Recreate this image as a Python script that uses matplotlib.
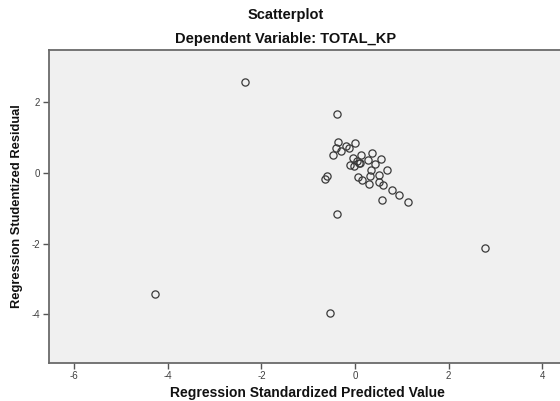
import matplotlib
matplotlib.use("Agg")
import matplotlib.pyplot as plt

plt.rcParams['font.family'] = ['Liberation Sans', 'DejaVu Sans']

# Regression Standardized Predicted Value
pred = [-2.35, -0.38, -4.27, -0.53, 2.78, -0.38,
        -0.36, -0.41, -0.31, -0.46, -0.19, -0.13, -0.01, -0.04, 0.13, 0.37,
        0.28, 0.55, 0.43, 0.05, 0.09, 0.11, -0.11, -0.03, 0.35, 0.69,
        0.52, 0.32, 0.06, 0.15, 0.29, 0.51, 0.60, 0.80, 0.95, 1.14,
        0.57, -0.59, -0.64]
# Regression Studentized Residual
resid = [2.58, 1.67, -3.43, -3.97, -2.12, -1.16,
         0.88, 0.70, 0.61, 0.50, 0.75, 0.70, 0.84, 0.42, 0.50, 0.56,
         0.37, 0.39, 0.25, 0.34, 0.29, 0.28, 0.22, 0.18, 0.09, 0.07,
         -0.05, -0.10, -0.13, -0.20, -0.32, -0.25, -0.35, -0.49, -0.63, -0.81,
         -0.77, -0.08, -0.16]

xticks = [-6, -4, -2, 0, 2, 4]
yticks = [2, 0, -2, -4]

W, H = 560, 401
fig = plt.figure(figsize=(W / 100, H / 100), dpi=100)
fig.patch.set_facecolor('white')

left, right, top, bottom = 48.5, 565.6, 50, 363
ax = fig.add_axes([left / W, 1 - bottom / H, (right - left) / W, (bottom - top) / H])
ax.set_facecolor('#f0f0f0')

ax.plot(pred, resid, linestyle='none', marker='o', markersize=5.2,
        markerfacecolor='none', markeredgecolor='#3a3a3a', markeredgewidth=0.9)

ax.set_xlim(-6.55, 4.50)
ax.set_ylim(-5.37, 3.47)
ax.set_xticks(xticks)
ax.set_yticks(yticks)
ax.set_xticklabels([str(t) for t in xticks])
ax.set_yticklabels([str(t) for t in yticks])
ax.tick_params(direction='out', length=4, width=1, color='#555555',
               labelsize=7, labelcolor='#404040', pad=2)

for s in ['left', 'bottom', 'top']:
    ax.spines[s].set_color('#6a6a6a')
    ax.spines[s].set_linewidth(1.3)
ax.spines['right'].set_visible(False)

ax.set_xlabel('Regression Standardized Predicted Value', fontsize=10,
              fontweight='bold', color='#111111')
ax.xaxis.set_label_coords(0.5, (bottom - 393) / (bottom - top))
ax.xaxis.label.set_va('center')
ax.set_ylabel('Regression Studentized Residual', fontsize=9.3,
              fontweight='bold', color='#111111')
ax.yaxis.set_label_coords((17 - left) / (right - left), 0.5)
ax.yaxis.label.set_va('center')

fig.text(286 / W, 1 - 15 / H, 'Scatterplot', ha='center', va='center',
         fontsize=10.5, fontweight='bold', color='#111111')
fig.text(286 / W, 1 - 39 / H, 'Dependent Variable: TOTAL_KP', ha='center',
         va='center', fontsize=10.5, fontweight='bold', color='#111111')

fig.savefig('out.png', dpi=100)
